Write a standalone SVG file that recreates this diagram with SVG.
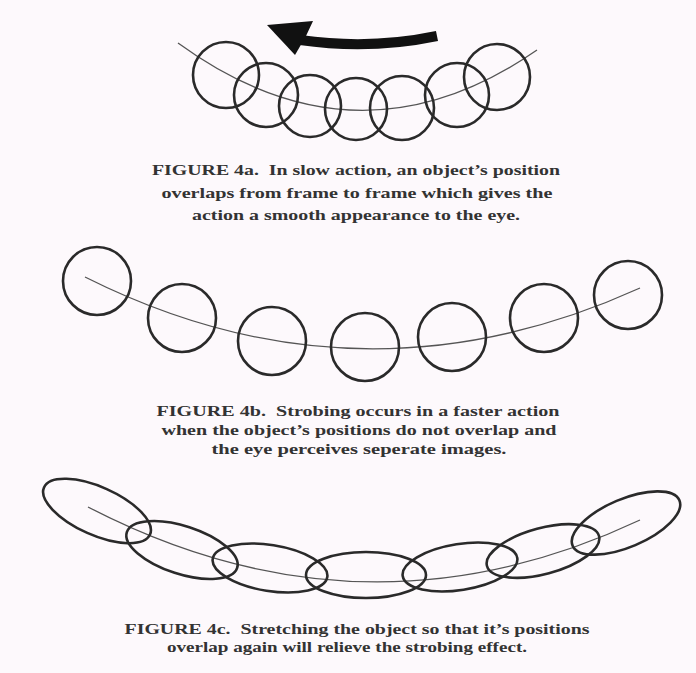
<svg xmlns="http://www.w3.org/2000/svg" width="696" height="673" viewBox="0 0 696 673">
<style>
.o{fill:none;stroke:#2a2a2a;stroke-width:2.6}
.p{fill:none;stroke:#555;stroke-width:1.3}
.t{font-family:"Liberation Serif","Times New Roman",serif;font-size:15px;font-weight:bold;fill:#333;text-anchor:middle}
</style>
<rect width="696" height="673" fill="#fdf9fc"/>
<g id="paths">
<path class="p" d="M178 43 Q358 174 537 50"/>
<path class="p" d="M85 277 Q360 415 640 288"/>
<path class="p" d="M88 507 Q364 650 640 520"/>
</g>
<g id="arrow">
<path d="M300 40 Q370 50 437 36" fill="none" stroke="#111" stroke-width="10"/>
<polygon points="267,25 313,21 306,36 295,55" fill="#111"/>
</g>
<g id="fig4a">
<circle class="o" cx="226" cy="75" r="33"/>
<circle class="o" cx="266" cy="95" r="32"/>
<circle class="o" cx="310" cy="106" r="31"/>
<circle class="o" cx="356" cy="109" r="31"/>
<circle class="o" cx="402" cy="108" r="32"/>
<circle class="o" cx="457" cy="95" r="32"/>
<circle class="o" cx="497" cy="77" r="33"/>
</g>
<g id="fig4b">
<circle class="o" cx="97" cy="281" r="34"/>
<circle class="o" cx="182" cy="318" r="34"/>
<circle class="o" cx="272" cy="341" r="34"/>
<circle class="o" cx="365" cy="347" r="34"/>
<circle class="o" cx="452" cy="337" r="34"/>
<circle class="o" cx="544" cy="318" r="34"/>
<circle class="o" cx="628" cy="295" r="34"/>
</g>
<g id="fig4c">
<ellipse class="o" cx="97" cy="511" rx="58" ry="24" transform="rotate(24 97 511)"/>
<ellipse class="o" cx="182" cy="550" rx="58" ry="24" transform="rotate(18 182 550)"/>
<ellipse class="o" cx="270" cy="568" rx="58" ry="23" transform="rotate(9 270 568)"/>
<ellipse class="o" cx="366" cy="575" rx="60" ry="23"/>
<ellipse class="o" cx="460" cy="567" rx="58" ry="23" transform="rotate(-9 460 567)"/>
<ellipse class="o" cx="543" cy="551" rx="58" ry="23" transform="rotate(-15 543 551)"/>
<ellipse class="o" cx="626" cy="523" rx="58" ry="24" transform="rotate(-23 626 523)"/>
</g>
<g id="caption4a">
<text class="t" x="356" y="175" textLength="408" lengthAdjust="spacingAndGlyphs">FIGURE 4a.&#160; In slow action, an object’s position</text>
<text class="t" x="357" y="198" textLength="391" lengthAdjust="spacingAndGlyphs">overlaps from frame to frame which gives the</text>
<text class="t" x="356" y="220" textLength="328" lengthAdjust="spacingAndGlyphs">action a smooth appearance to the eye.</text>
</g>
<g id="caption4b">
<text class="t" x="358" y="416" textLength="403" lengthAdjust="spacingAndGlyphs">FIGURE 4b.&#160; Strobing occurs in a faster action</text>
<text class="t" x="359" y="435" textLength="395" lengthAdjust="spacingAndGlyphs">when the object’s positions do not overlap and</text>
<text class="t" x="359" y="454" textLength="295" lengthAdjust="spacingAndGlyphs">the eye perceives seperate images.</text>
</g>
<g id="caption4c">
<text class="t" x="357" y="634" textLength="465" lengthAdjust="spacingAndGlyphs">FIGURE 4c.&#160; Stretching the object so that it’s positions</text>
<text class="t" x="347" y="652" textLength="360" lengthAdjust="spacingAndGlyphs">overlap again will relieve the strobing effect.</text>
</g>
</svg>
